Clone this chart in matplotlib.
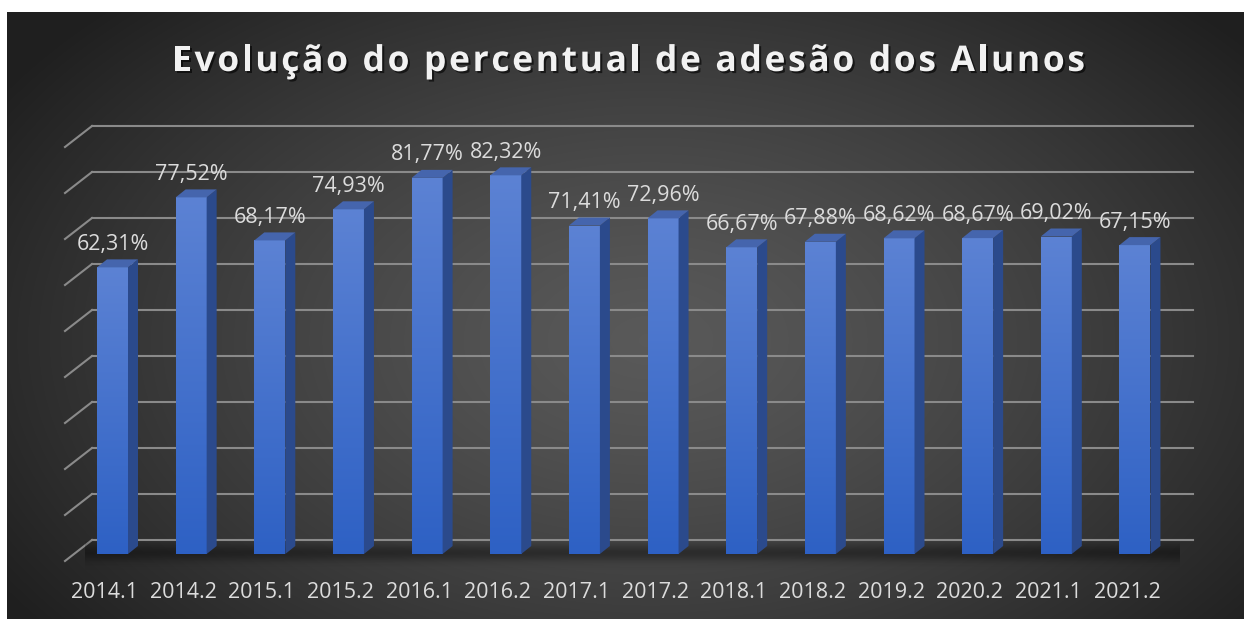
import numpy as np
import matplotlib
matplotlib.use('Agg')
import matplotlib.pyplot as plt
from matplotlib.patches import Polygon
from matplotlib.font_manager import FontProperties
from matplotlib.textpath import text_to_path
import matplotlib.patheffects as pe

# dados
periodos = ['2014.1', '2014.2', '2015.1', '2015.2', '2016.1', '2016.2', '2017.1',
            '2017.2', '2018.1', '2018.2', '2019.2', '2020.2', '2021.1', '2021.2']
adesao = [62.31, 77.52, 68.17, 74.93, 81.77, 82.32, 71.41,
          72.96, 66.67, 67.88, 68.62, 68.67, 69.02, 67.15]
rotulos = ['62,31%', '77,52%', '68,17%', '74,93%', '81,77%', '82,32%', '71,41%',
           '72,96%', '66,67%', '67,88%', '68,62%', '68,67%', '69,02%', '67,15%']
grade = list(range(0, 100, 10))

titulo = 'Evolução do percentual de adesão dos Alunos'

# geometria (pixels -> dados)
W, H = 1244, 619
X0, DX = 112.5, 78.65      # centro da 1a barra, passo
Y0, DY = 554.0, 4.6        # base frontal, px por ponto percentual


def px2x(p):
    return (p - X0) / DX


def px2v(p):
    return (Y0 - p) / DY


BAR_W = 31 / DX
DEP_X, DEP_Y = 10 / DX, 8 / DY          # profundidade da barra
WALL_X, WALL_Y = 18 / DX, 14 / DY       # parede do fundo
FRONT_X, FRONT_Y = -9 / DX, -7 / DY     # plano da frente

fig = plt.figure(figsize=(W / 100, H / 100), dpi=100, facecolor='white')
ax = fig.add_axes([0, 0, 1, 1])
ax.set_xlim(px2x(0), px2x(W))
ax.set_ylim(px2v(H), px2v(0))
ax.axis('off')

# fundo com gradiente radial
yy, xx = np.mgrid[12:H, 7:W]
d = np.sqrt(((xx - 650) / 760.0) ** 2 + ((yy - 340) / 470.0) ** 2)
d = np.clip(d, 0, 1) ** 1.3
c = 0.35 + (0.125 - 0.35) * d
bg = np.dstack([c, c, c])
ax.imshow(bg, extent=(px2x(7), px2x(W), px2v(H), px2v(12)),
          aspect='auto', zorder=0, interpolation='bilinear')

# linhas de grade
xl_back = px2x(92)
xr_back = px2x(1193)
xl_front = xl_back - (WALL_X - FRONT_X)
for g in grade:
    ax.plot([xl_back, xr_back], [g + WALL_Y, g + WALL_Y], color='#8a8a8a', lw=1.5, zorder=1)
    ax.plot([xl_front, xl_back], [g + FRONT_Y, g + WALL_Y], color='#8a8a8a', lw=1.5, zorder=1)

# sombra no piso
sy = np.linspace(0, 1, 60)
prof = np.exp(-((sy - 0.4) / 0.3) ** 2) * 0.35
sh = np.zeros((60, 2, 4))
sh[:, :, 3] = prof[:, None]
ax.imshow(sh, extent=(px2x(85), px2x(1180), px2v(570), px2v(541)),
          aspect='auto', zorder=2, interpolation='bilinear')

# barras
x = np.arange(len(periodos))
bars = ax.bar(x, adesao, width=BAR_W, color='#4672cc', zorder=3, linewidth=0)
grad = np.linspace(0, 1, 100)[:, None]
top_c = np.array([0.36, 0.51, 0.83])
bot_c = np.array([0.18, 0.38, 0.77])
img = (top_c + (bot_c - top_c) * grad)[:, None, :].repeat(2, axis=1)

for i, (b, v) in enumerate(zip(bars, adesao)):
    xl, xr = i - BAR_W / 2, i + BAR_W / 2
    im = ax.imshow(img, extent=(xl, xr, 0, v), aspect='auto', zorder=4,
                   interpolation='bilinear')
    im.set_clip_path(b)
    side = Polygon([(xr, 0), (xr + DEP_X, DEP_Y), (xr + DEP_X, v + DEP_Y), (xr, v)],
                   closed=True, facecolor='#2b4a8c', edgecolor='none', zorder=4)
    ax.add_patch(side)
    top = Polygon([(xl, v), (xl + DEP_X, v + DEP_Y), (xr + DEP_X, v + DEP_Y), (xr, v)],
                  closed=True, facecolor='#4565ad', edgecolor='none', zorder=4)
    ax.add_patch(top)
    ax.text(i, v + 3.8, rotulos[i], ha='center', va='baseline', color='#dcdcdc',
            fontsize=15.5, family='Open Sans', zorder=5)
    ax.text(i - 0.1, px2v(592), periodos[i], ha='center', va='center', color='#dcdcdc',
            fontsize=15.5, family='Open Sans', zorder=5)

# titulo com espaçamento entre letras
fp = FontProperties(family='Open Sans', weight='bold', size=25.5)


def largura(s):
    # largura em pixels (pontos * 100/72)
    w, _, _ = text_to_path.get_text_width_height_descent(s, fp, ismath=False)
    return w * 100 / 72


adv = []
for ch in titulo:
    if ch == ' ':
        adv.append(largura('a a') - largura('aa'))
    else:
        adv.append(largura(ch))
natural = sum(adv)
alvo = 1085 - 172
extra = (alvo - natural) / (len(titulo) - 1)
xpos = 172.0
sombra = [pe.withSimplePatchShadow(offset=(1.5, -1.5), shadow_rgbFace='black', alpha=0.6)]
for ch, a in zip(titulo, adv):
    if ch != ' ':
        fig.text(xpos / W, 1 - 62 / H, ch, ha='left', va='center', color='#f2f2f2',
                 fontproperties=fp, path_effects=sombra)
    xpos += a + extra

plt.savefig('out.png', dpi=100, facecolor='white')
